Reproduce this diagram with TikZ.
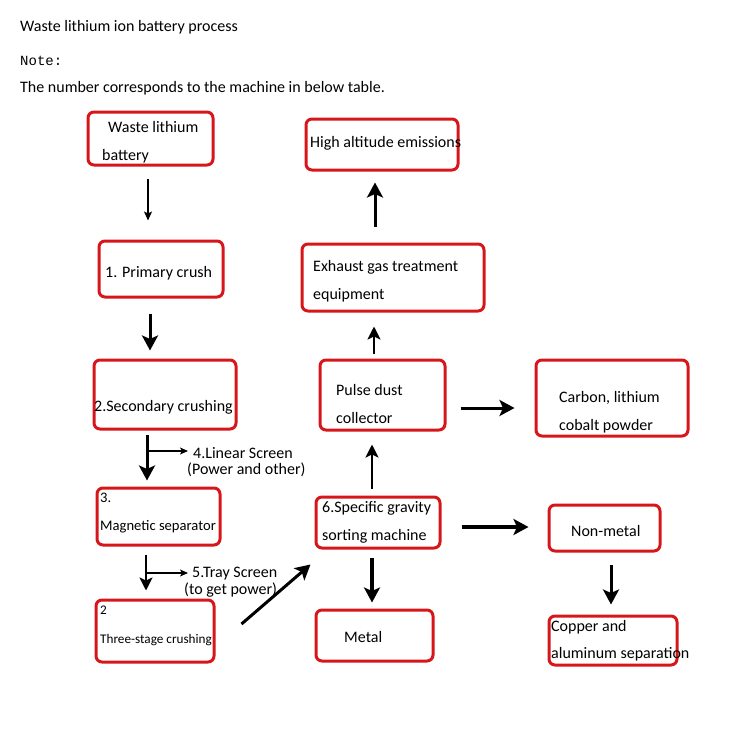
\documentclass[tikz,border=0pt]{standalone}
\usepackage{fontspec}
\setmainfont{Carlito}
\newfontfamily\monof{Liberation Mono}
\usetikzlibrary{arrows.meta}
\definecolor{boxred}{RGB}{214,22,26}
\tikzset{
  box/.style={draw=boxred, line width=3pt, rounded corners=6pt, minimum width=#1},
  txt/.style={anchor=base west, inner sep=0pt, font=\fontsize{16}{18}\selectfont},
  magtxt/.style={anchor=base west, inner sep=0pt, font=\fontsize{14.6}{16}\selectfont},
  smalltxt/.style={anchor=base west, inner sep=0pt, font=\fontsize{13.2}{15}\selectfont},
  thinarr/.style={line width=1.4pt, -{Stealth[length=9pt,width=8pt,inset=2pt]}},
  midarr/.style={line width=2.2pt, -{Stealth[length=13pt,width=13pt,inset=3pt]}},
  thickarr/.style={line width=3pt, -{Stealth[length=15pt,width=16pt,inset=3.5pt]}},
  brarr/.style={line width=1.2pt, -{Stealth[length=8pt,width=7pt,inset=2pt]}}
}
\begin{document}
\begin{tikzpicture}[x=1pt,y=-1pt]
\useasboundingbox (0,0) rectangle (750,750);
% header
\node[txt] (title) at (20,31) {Waste lithium ion battery process};
\node[txt, font=\monof\fontsize{14}{16}\selectfont] (note) at (20,65) {Note:};
\node[txt] (desc) at (20,92) {The number corresponds to the machine in below table.};
% boxes
\node[box=125pt, minimum height=53pt] (b1) at (150.5,138.5) {};
\node[box=124pt, minimum height=56pt] (b2) at (161,269) {};
\node[box=152pt, minimum height=51pt] (b3) at (382,144.5) {};
\node[box=182pt, minimum height=67pt] (b4) at (393,277.5) {};
\node[box=142pt, minimum height=69pt] (b5) at (165,394.5) {};
\node[box=125pt, minimum height=70pt] (b6) at (382.5,395) {};
\node[box=152pt, minimum height=76pt] (b7) at (612,398) {};
\node[box=123pt, minimum height=57pt] (b8) at (158.5,516.5) {};
\node[box=118pt, minimum height=62pt] (b9) at (155,631) {};
\node[box=124pt, minimum height=51pt] (b10) at (378,522.5) {};
\node[box=117pt, minimum height=51pt] (b11) at (374.5,635.5) {};
\node[box=111pt, minimum height=46pt] (b12) at (604.5,528) {};
\node[box=128pt, minimum height=49pt] (b13) at (613,640.5) {};
% texts
\node[txt] (t1a) at (108,132) {Waste lithium};
\node[txt] (t1b) at (102,160) {battery};
\node[txt] (t2) at (105,277) {1. Primary crush};
\node[txt] (t3) at (310,147) {High altitude emissions};
\node[txt] (t4a) at (313,271) {Exhaust gas treatment};
\node[txt] (t4b) at (313,299) {equipment};
\node[txt] (t5) at (94,411) {2.Secondary crushing};
\node[txt] (t6a) at (336,395) {Pulse dust};
\node[txt] (t6b) at (336,423) {collector};
\node[txt] (t7a) at (559,402) {Carbon, lithium};
\node[txt] (t7b) at (559,430) {cobalt powder};
\node[txt] (l4a) at (193,458) {4.Linear Screen};
\node[txt] (l4b) at (187,474) {(Power and other)};
\node[magtxt] (t8a) at (100,502) {3.};
\node[magtxt] (t8b) at (100,530) {Magnetic separator};
\node[txt] (t10a) at (322,512) {6.Specific gravity};
\node[txt] (t10b) at (322,540) {sorting machine};
\node[txt] (t12) at (571,536) {Non-metal};
\node[txt] (l5a) at (192,577) {5.Tray Screen};
\node[txt] (l5b) at (184,594) {(to get power)};
\node[smalltxt] (t9a) at (100,614) {2};
\node[smalltxt] (t9b) at (100,643) {Three-stage crushing};
\node[txt] (t11) at (344,642) {Metal};
\node[txt] (t13a) at (551,631) {Copper and};
\node[txt] (t13b) at (551,658) {aluminum separation};
% connectors
\draw[thinarr] ([xshift=-2.5pt,yshift=-12pt]b1.south) -- ([xshift=-13pt,yshift=19pt]b2.north);
\draw[thickarr] ([xshift=-11pt,yshift=-15pt]b2.south) -- ([xshift=-15pt,yshift=8pt]b5.north);
\draw[thickarr] ([xshift=-18pt,yshift=-4pt]b5.south) -- ([xshift=-11.5pt,yshift=6pt]b8.north);
\coordinate (br4s) at (147,451);
\coordinate (br4e) at (188,451);
\draw[brarr] (br4s) -- (br4e);
\draw[midarr] ([xshift=-12.5pt,yshift=-8pt]b8.south) -- ([xshift=-9pt,yshift=8pt]b9.north);
\coordinate (br5s) at (146,573);
\coordinate (br5e) at (188,573);
\draw[brarr] (br5s) -- (br5e);
\draw[thickarr] ([xshift=26pt,yshift=7pt]b9.east) -- ([xshift=-4pt,yshift=-15pt]b10.south west);
\draw[midarr] ([xshift=-6pt,yshift=7pt]b10.north) -- ([xshift=-10.5pt,yshift=-13pt]b6.south);
\draw[midarr] ([xshift=-8.5pt,yshift=5pt]b6.north) -- ([xshift=-19pt,yshift=-14pt]b4.south);
\draw[thickarr] ([xshift=-18pt,yshift=16pt]b4.north) -- ([xshift=-7pt,yshift=-11pt]b3.south);
\draw[thickarr] ([xshift=14pt,yshift=-13pt]b6.east) -- ([xshift=-20pt,yshift=-10pt]b7.west);
\draw[thickarr, line width=4pt] ([xshift=20pt,yshift=-4.5pt]b10.east) -- ([xshift=-19pt,yshift=1pt]b12.west);
\draw[thickarr, line width=4pt] ([xshift=-6pt,yshift=-8pt]b10.south) -- ([xshift=-2.5pt,yshift=6pt]b11.north);
\draw[thickarr] ([xshift=6.5pt,yshift=-12pt]b12.south) -- ([xshift=-2pt,yshift=10pt]b13.north);
\end{tikzpicture}
\end{document}
